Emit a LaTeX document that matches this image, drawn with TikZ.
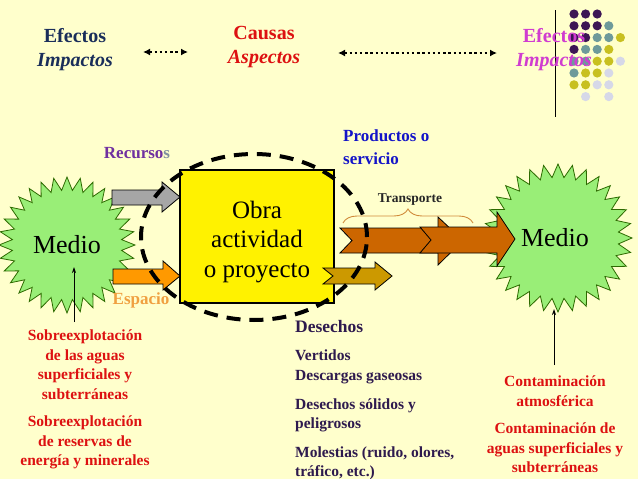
\documentclass[tikz,border=0pt]{standalone}
\usepackage{fontspec}
\setmainfont{Liberation Serif}
\usetikzlibrary{shapes.geometric,decorations.pathreplacing,arrows.meta}
\definecolor{bg}{HTML}{FFFFCC}
\definecolor{navy}{HTML}{1A2E5A}
\definecolor{redt}{HTML}{DD1111}
\definecolor{magt}{HTML}{D03CD0}
\definecolor{purt}{HTML}{7030A0}
\definecolor{greyt}{HTML}{8090A0}
\definecolor{orat}{HTML}{F0A040}
\definecolor{bluet}{HTML}{1414C8}
\definecolor{dpur}{HTML}{2E1A4E}
\definecolor{burstfill}{HTML}{99EE77}
\definecolor{burstdraw}{HTML}{2D6A00}
\definecolor{greyarr}{HTML}{A6A6A6}
\definecolor{oraarr}{HTML}{FF9900}
\definecolor{traarr}{HTML}{CC6600}
\definecolor{goldarr}{HTML}{CC9900}
\definecolor{braceC}{HTML}{D08A3A}
\definecolor{dotP}{HTML}{3D1654}
\definecolor{dotT}{HTML}{6E9A9A}
\definecolor{dotY}{HTML}{C8C020}
\definecolor{dotL}{HTML}{D6D8E8}
\begin{document}
\begin{tikzpicture}[x=1pt,y=-1pt,
  hdr/.style={font=\fontsize{20}{24}\selectfont\bfseries, align=center, inner sep=0pt},
  burst/.style={star, star points=32, inner sep=0pt, draw=burstdraw, fill=burstfill, line width=0.8pt, font=\fontsize{26}{30}\selectfont},
  blockarr/.style={draw=black, line width=0.8pt},
  dotarr/.style={line width=2.4pt, dash pattern=on 2.4pt off 2.8pt, {Latex[length=7pt,width=7pt]}-{Latex[length=7pt,width=7pt]}},
  thinarr/.style={line width=0.8pt, -{Stealth[length=6pt,width=4pt]}},
  lbl/.style={font=\fontsize{17}{23}\selectfont\bfseries, inner sep=0pt},
  body/.style={font=\fontsize{15.5}{19.5}\selectfont\bfseries, inner sep=0pt, align=center},
  bodyl/.style={font=\fontsize{15.5}{19.5}\selectfont\bfseries, inner sep=0pt, align=left, anchor=west}
]
\fill[bg] (0,0) rectangle (638,479);
\useasboundingbox (0,0) rectangle (638,479);

% decorative dots and line
\draw[line width=0.8pt] (555,10) -- (555,117);
\foreach \r in {0,...,7}{
  \foreach \c in {0,...,4}{
    \pgfmathtruncatemacro{\s}{\r+\c}
    \pgfmathtruncatemacro{\show}{(\r==0 && \c>2) || (\r==1 && \c>3) || (\r==3 && \c>3) || (\r==5 && \c>3) || (\r==6 && \c>3) || (\r==7 && (\c==0 || \c==2 || \c==4)) ? 0 : 1}
    \ifnum\show=1
      \ifnum\s<4 \def\col{dotP}\else\ifnum\s<6 \def\col{dotT}\else\ifnum\s<8 \def\col{dotY}\else\def\col{dotL}\fi\fi\fi
      \fill[\col] ({574+11.6*\c},{14+11.8*\r}) circle (4.6pt);
    \fi
  }
}

% headers
\node[hdr, text=navy] (efL) at (75,50) {Efectos\\\textit{Impactos}};
\node[hdr, text=redt] (causas) at (264,47) {Causas\\\textit{Aspectos}};
\node[hdr, text=magt] (efR) at (554,50) {Efectos\\\textit{Impactos}};
\coordinate (d1a) at (143,52); \coordinate (d1b) at (188,52);
\coordinate (d2a) at (338,53); \coordinate (d2b) at (497,53);
\draw[dotarr] (d1a) -- (d1b);
\draw[dotarr] (d2a) -- (d2b);

% bursts
\node[burst, star point ratio=1.24, minimum size=136pt] (medioL) at (67,245) {Medio};
\node[burst, star point ratio=1.22, minimum size=148pt] (medioR) at (558,238) {\hspace*{-6pt}Medio};

% input arrows
\fill[greyarr, blockarr] (112,190) -- (162,190) -- (162,182) -- (180,197) -- (162,212) -- (162,205) -- (112,205) -- cycle;
\fill[oraarr, blockarr] (113,269) -- (163,269) -- (163,261) -- (180,276) -- (163,290) -- (163,284) -- (113,284) -- cycle;

% box
\node[draw=black, fill=yellow, line width=1.2pt, minimum width=154pt, minimum height=133pt, inner sep=0pt] (obra) at (257,236.5) {};
\node[font=\fontsize{25}{29.5}\selectfont, align=center, inner sep=0pt] (obratxt) at (257,242) {Obra\\actividad\\o proyecto};

% output arrows
\fill[goldarr, blockarr] (323,268) -- (375,268) -- (375,262) -- (392,276) -- (375,290) -- (375,284) -- (323,284) -- (333,276) -- cycle;
\fill[traarr, blockarr] (340,228) -- (438,228) -- (438,217) -- (463,240.5) -- (438,265) -- (438,253) -- (340,253) -- (352,240.5) -- cycle;
\fill[traarr, blockarr] (420,227) -- (497,227) -- (497,212) -- (515,239) -- (497,266) -- (497,253) -- (420,253) -- (431,240) -- cycle;

% dashed ellipse
\draw[line width=4pt, dash pattern=on 14pt off 9pt] (254,237) ellipse [x radius=113pt, y radius=83pt];

% brace
\coordinate (bra) at (343,223); \coordinate (brb) at (473,223);
\draw[braceC, line width=0.9pt, decorate, decoration={brace, amplitude=14pt}] (bra) -- (brb);
\node[font=\fontsize{13.5}{16}\selectfont\bfseries, text=black!85, inner sep=0pt] (transp) at (410,200) {Transporte};

% labels
\node[lbl] (recursos) at (137,153) {\textcolor{purt}{Recurso}\textcolor{greyt}{s}};
\node[lbl, text=orat] (espacio) at (141,300) {Espacio};
\node[lbl, text=bluet, align=left, anchor=west] (prod) at (343,147) {Productos o\\servicio};

% thin arrows to bursts
\coordinate (la) at (74,322); \coordinate (lat) at (74,267);
\draw[thinarr] (la) -- (lat);
\coordinate (ra) at (554,365); \coordinate (rat) at (554,309);
\draw[thinarr] (ra) -- (rat);

% left red text
\node[body, text=redt] (sobre1) at (85,364.5) {Sobreexplotación\\de las aguas\\superficiales y\\subterráneas};
\node[body, text=redt] (sobre2) at (85,442.5) {Sobreexplotación\\de reservas de\\energía y minerales};

% desechos
\node[bodyl, text=dpur, font=\fontsize{17.5}{20}\selectfont\bfseries] (desechos) at (295,327) {Desechos};
\node[bodyl, text=dpur] (vert) at (295,367) {Vertidos\\Descargas gaseosas};
\node[bodyl, text=dpur] (solid) at (295,415.5) {Desechos sólidos y\\peligrosos};
\node[bodyl, text=dpur] (moles) at (295,463.5) {Molestias (ruido, olores,\\tráfico, etc.)};

% right red text
\node[body, text=redt] (cont1) at (555,391) {Contaminación\\atmosférica};
\node[body, text=redt] (cont2) at (555,448) {Contaminación de\\aguas superficiales y\\subterráneas};
\end{tikzpicture}
\end{document}
